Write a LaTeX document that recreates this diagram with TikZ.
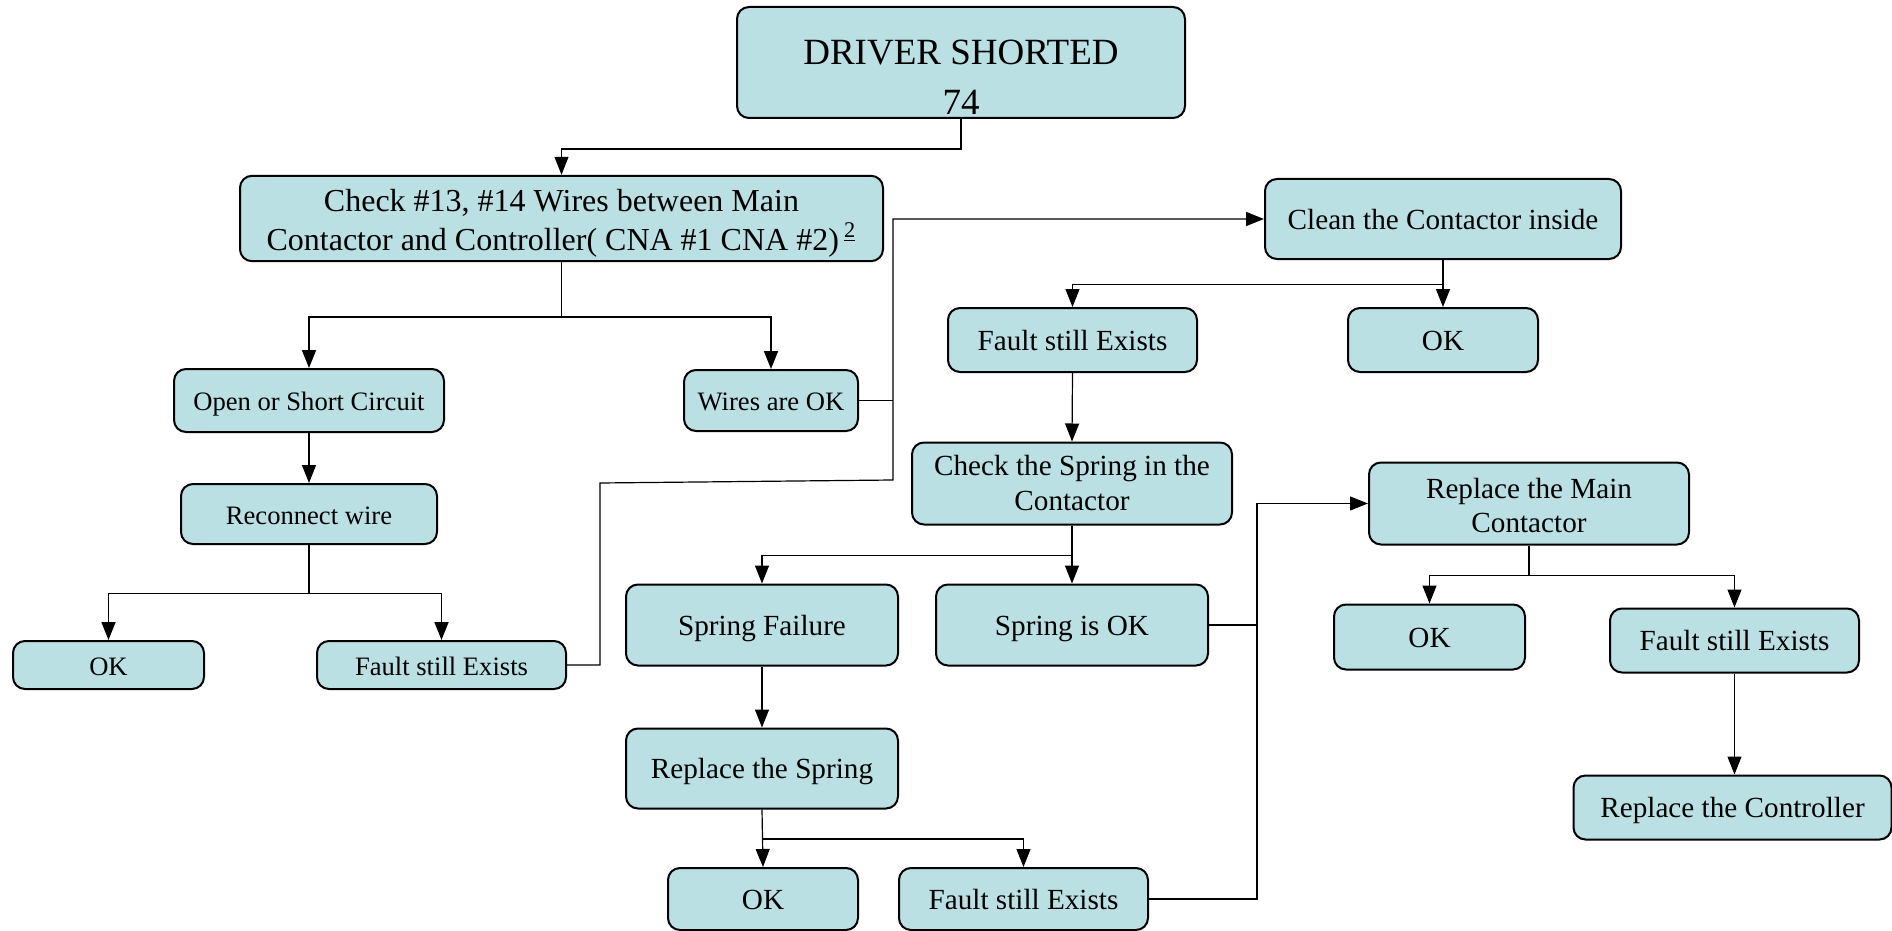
\documentclass[tikz,border=0pt]{standalone}
\usepackage{fontspec}
\setmainfont{Liberation Serif}
\usetikzlibrary{arrows.meta}
\definecolor{boxfill}{RGB}{186,224,227}

\begin{document}
\begin{tikzpicture}[x=0.5pt,y=-0.5pt,
  box/.style={draw=black,line width=1pt,fill=boxfill,rounded corners=6pt,align=center,inner sep=2pt},
  oneline/.style={text height=1.2em,text depth=0.2em},
  small/.style={oneline,font=\fontsize{13.3}{16}\selectfont},
  mid/.style={oneline,font=\fontsize{14.6}{17.5}\selectfont},
  flow/.style={line width=0.6pt,-{Triangle[length=9pt,width=7pt]}},
  tie/.style={line width=0.6pt}]

  \useasboundingbox (0,0) rectangle (1892,931);

  % top
  \node[box,minimum width=224pt,minimum height=55.5pt,font=\fontsize{18.5}{22}\selectfont] (shorted) at (961,62.5)
    {\raisebox{-13.5pt}[0pt][0pt]{\begin{tabular}{@{}c@{}}DRIVER SHORTED\\[3pt]74\end{tabular}}};
  \node[box,minimum width=321.5pt,minimum height=39.5pt,font=\fontsize{16}{19.3}\selectfont] (wires) at (561.5,218.5)
    {\rule{0pt}{16pt}Check \#13, \#14 Wires between Main\\Contactor and Controller( CNA \#1 CNA \#2)\,\textsuperscript{\underline{2}}};

  % left branch
  \node[box,small,minimum width=135pt,minimum height=31.5pt] (opensc) at (309,400.5) {Open or Short Circuit};
  \node[box,small,minimum width=87pt,minimum height=30.5pt] (wiresok) at (771,400.5) {Wires are OK};
  \node[box,small,minimum width=128pt,minimum height=30pt] (reconnect) at (309,514) {Reconnect wire};
  \node[box,small,minimum width=95.5pt,minimum height=24pt] (okA) at (108.5,665) {OK};
  \node[box,small,minimum width=124.5pt,minimum height=24pt] (faultA) at (441.5,665) {Fault still Exists};

  % contactor
  \node[box,mid,minimum width=178pt,minimum height=40pt] (clean) at (1443,219) {Clean the Contactor inside};
  \node[box,mid,minimum width=124.5pt,minimum height=32pt] (faultB) at (1072.5,340) {Fault still Exists};
  \node[box,mid,minimum width=95pt,minimum height=32pt] (okB) at (1443,340) {OK};
  \node[box,minimum width=160pt,minimum height=41pt,font=\fontsize{14.6}{17.5}\selectfont] (spring) at (1072,483.5)
    {Check the Spring in the\\Contactor};

  % spring
  \node[box,mid,minimum width=136pt,minimum height=40.5pt] (springfail) at (762,625) {Spring Failure};
  \node[box,mid,minimum width=136pt,minimum height=40.5pt] (springok) at (1072,625) {Spring is OK};
  \node[box,mid,minimum width=136pt,minimum height=40pt] (newspring) at (762,768.5) {Replace the Spring};
  \node[box,mid,minimum width=95pt,minimum height=31pt] (okC) at (763,899) {OK};
  \node[box,mid,minimum width=124.5pt,minimum height=31pt] (faultC) at (1023.5,899) {Fault still Exists};

  % main contactor, controller
  \node[box,minimum width=160pt,minimum height=41pt,font=\fontsize{14.6}{16.9}\selectfont] (newmain) at (1529,503.5)
    {\rule{0pt}{12.4pt}Replace the Main\\Contactor};
  \node[box,mid,minimum width=95.5pt,minimum height=32.5pt] (okD) at (1429.5,637) {OK};
  \node[box,mid,minimum width=124.5pt,minimum height=32pt] (faultD) at (1734.5,640.5) {Fault still Exists};
  \node[box,mid,minimum width=159pt,minimum height=32pt] (newctrl) at (1732.5,807.5) {Replace the Controller};

  % arrows
  \draw[flow] (shorted.south) -- ++(0,30) -| (wires.north);
  \draw[flow,line width=0.9pt] (wires.south) -- ++(0,55) -| (opensc.north);
  \draw[flow,line width=0.9pt] (wires.south) ++(0,55) -| (wiresok.north);
  \draw[flow] (opensc.south) -- (reconnect.north);
  \draw[flow,line width=0.9pt] (reconnect.south) -- ++(0,48.5) -| (okA.north);
  \draw[flow,line width=0.9pt] (reconnect.south) ++(0,48.5) -| (faultA.north);

  %back to the contactor
  \coordinate (turnA) at (600,483);
  \coordinate (turnB) at (893,480);
  \draw[flow] (faultA.east) -| (turnA) -- (turnB) |- (clean.west);
  \draw[tie] (wiresok.east) -- (wiresok.east -| turnB);

  \draw[flow] (clean.south) -- (okB.north);
  \draw[flow] (clean.south) ++(0,24.5) -| (faultB.north);
  \draw[flow] (faultB.south) -- (spring.north);
  \draw[flow] (spring.south) -- (springok.north);
  \draw[flow] (spring.south) ++(0,30) -| (springfail.north);
  \draw[flow] (springfail.south) -- (newspring.north);
  \draw[flow] (newspring.south) -- (okC.north);
  \draw[flow] (newspring.south) ++(0,29.5) -| (faultC.north);

  %on to the main contactor
  \coordinate (turnC) at (1257,503.5);
  \draw[flow] (springok.east) -| (turnC) -- (newmain.west);
  \draw[tie] (faultC.east) -| (springok.east -| turnC);

  \draw[flow] (newmain.south) -- ++(0,30) -| (okD.north);
  \draw[flow] (newmain.south) ++(0,30) -| (faultD.north);
  \draw[flow] (faultD.south) -- (faultD.south |- newctrl.north);

\end{tikzpicture}
\end{document}
